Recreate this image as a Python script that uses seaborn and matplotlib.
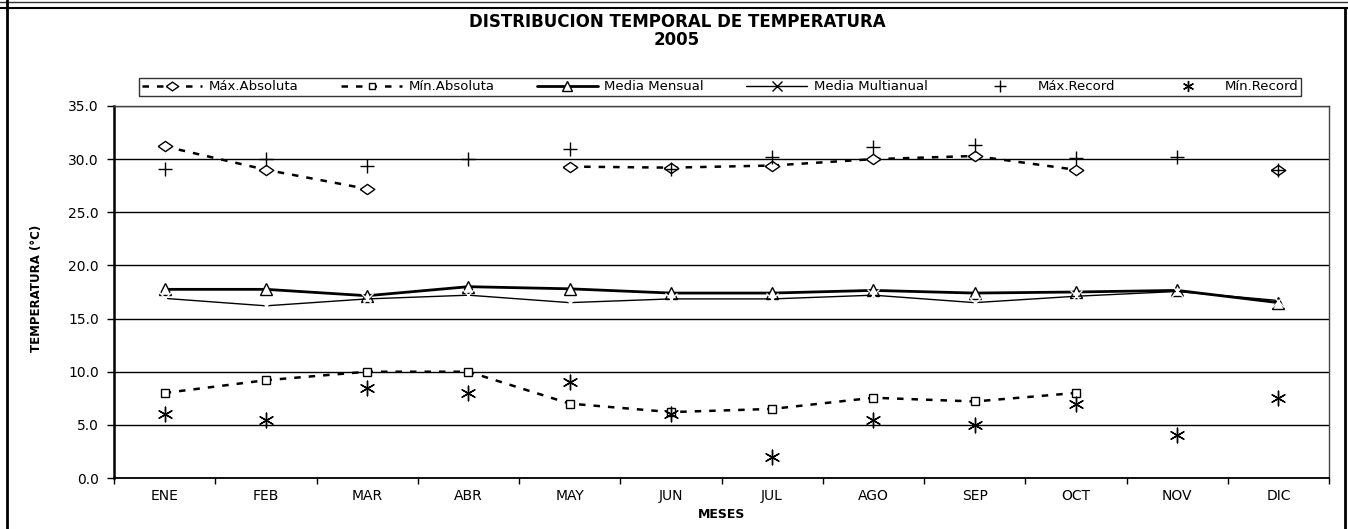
import numpy as np
import pandas as pd
import seaborn as sns
import matplotlib
matplotlib.use("Agg")
import matplotlib.pyplot as plt
from matplotlib.lines import Line2D

# data
meses = ["ENE", "FEB", "MAR", "ABR", "MAY", "JUN", "JUL", "AGO", "SEP", "OCT", "NOV", "DIC"]
max_absoluta = [31.2, 29.0, 27.2, np.nan, 29.3, 29.2, 29.4, 30.0, 30.3, 29.0, np.nan, 29.0]
min_absoluta = [8.0, 9.2, 10.0, 10.0, 7.0, 6.2, 6.5, 7.55, 7.2, 8.0, np.nan, np.nan]
media_mensual = [17.75, 17.75, 17.15, 18.0, 17.8, 17.4, 17.4, 17.65, 17.4, 17.5, 17.65, 16.5]
media_multianual = [16.9, 16.2, 16.85, 17.2, 16.5, 16.85, 16.85, 17.2, 16.5, 17.1, 17.55, 16.7]
max_record = [29.1, 30.0, 29.35, 30.0, 31.0, 29.1, 30.2, 31.1, 31.3, 30.1, 30.2, 29.0]
min_record = [6.0, 5.5, 8.5, 8.0, 9.0, 6.0, 2.0, 5.5, 5.0, 7.0, 4.0, 7.5]

sns.set_style("white")
plt.rcParams["font.family"] = ["DejaVu Sans"]
plt.rcParams["text.color"] = "black"
plt.rcParams["axes.labelcolor"] = "black"
plt.rcParams["xtick.color"] = "black"
plt.rcParams["ytick.color"] = "black"

W, H = 1348, 529
fig = plt.figure(figsize=(W / 100, H / 100), dpi=100)
ax = fig.add_axes([114 / W, 1 - 478 / H, (1329 - 114) / W, (478 - 106) / H])

pos = np.arange(len(meses))
df = pd.DataFrame({"pos": pos, "maxabs": max_absoluta, "minabs": min_absoluta,
                   "media": media_mensual, "multi": media_multianual,
                   "maxrec": max_record, "minrec": min_record})

# break dashed lines where a month is missing
def segments(col):
    s = df[col]
    seg = s.isna().cumsum()
    d = df.loc[s.notna(), ["pos", col]].copy()
    d["seg"] = seg[s.notna()]
    return d

dash = (0, (2.6, 3.2))
mk_face = "white"
# squashed diamond like the original
diamond = [(-1, 0), (0, 0.7), (1, 0), (0, -0.7), (-1, 0)]

d = segments("maxabs")
sns.lineplot(data=d, x="pos", y="maxabs", units="seg", estimator=None, ax=ax,
             color="black", lw=1.8, marker=diamond, ms=10.5,
             mfc=mk_face, mec="black", mew=1, zorder=4)
for ln in ax.lines:
    ln.set_linestyle(dash)

d = segments("minabs")
sns.lineplot(data=d, x="pos", y="minabs", units="seg", estimator=None, ax=ax,
             color="black", lw=1.8, marker="s", ms=5.5,
             mfc=mk_face, mec="black", mew=1, zorder=4)
ax.lines[-1].set_linestyle(dash)

sns.lineplot(data=df, x="pos", y="media", ax=ax, color="black", lw=2,
             marker="^", ms=9, mfc=mk_face, mec="black", mew=1, zorder=3)
sns.lineplot(data=df, x="pos", y="multi", ax=ax, color="black", lw=1,
             marker="x", ms=8, mew=1, zorder=3)
sns.scatterplot(data=df, x="pos", y="maxrec", ax=ax, color="black",
                marker="+", s=110, linewidth=1, zorder=5)
sns.scatterplot(data=df, x="pos", y="minrec", ax=ax, color="black",
                marker=(6, 2, 0), s=110, linewidth=1, zorder=5)

# axes styling
ax.set_xlim(-0.5, len(meses) - 0.5)
ax.set_ylim(0, 35)
ax.set_yticks(np.arange(0, 36, 5))
ax.set_yticklabels([f"{v:.1f}" for v in np.arange(0, 36, 5)], fontsize=10)
ax.yaxis.grid(True, color="black", lw=1)
ax.set_axisbelow(True)
ax.tick_params(axis="y", direction="out", length=5, width=1, color="black", pad=6, left=True)

ax.set_xticks(np.arange(-0.5, len(meses), 1))
ax.set_xticklabels([])
ax.set_xticks(pos, minor=True)
ax.set_xticklabels(meses, minor=True, fontsize=10)
ax.tick_params(axis="x", which="major", direction="out", length=4, width=1, color="black", bottom=True)
ax.tick_params(axis="x", which="minor", length=0, pad=8)

for side in ["top", "right"]:
    ax.spines[side].set_color("#444444")
    ax.spines[side].set_linewidth(1)
ax.spines["left"].set_color("black")
ax.spines["left"].set_linewidth(1.8)
ax.spines["bottom"].set_color("black")
ax.spines["bottom"].set_linewidth(1.3)

ax.set_xlabel("MESES", fontsize=9, fontweight="bold")
ax.xaxis.set_label_coords(0.5, (478 - 508) / 372)
ax.set_ylabel("TEMPERATURA (°C)", fontsize=8.5, fontweight="bold")
ax.yaxis.set_label_coords((43 - 114) / 1215, (478 - 288) / 372)

# titles
fig.text(677 / W, 1 - 22 / H, "DISTRIBUCION TEMPORAL DE TEMPERATURA",
         ha="center", va="center", fontsize=12, fontweight="bold")
fig.text(677 / W, 1 - 40 / H, "2005", ha="center", va="center",
         fontsize=12, fontweight="bold")

# legend
handles = [
    Line2D([], [], color="black", lw=1.8, ls=dash, marker=diamond, ms=9, mfc=mk_face, mec="black"),
    Line2D([], [], color="black", lw=1.8, ls=dash, marker="s", ms=5, mfc=mk_face, mec="black"),
    Line2D([], [], color="black", lw=2, marker="^", ms=7, mfc=mk_face, mec="black"),
    Line2D([], [], color="black", lw=1, marker="x", ms=7),
    Line2D([], [], color="black", ls="none", marker="+", ms=9),
    Line2D([], [], color="black", ls="none", marker=(6, 2, 0), ms=8),
]
labels = ["Máx.Absoluta", "Mín.Absoluta", "Media Mensual", "Media Multianual",
          "Máx.Record", "Mín.Record"]
leg = fig.legend(handles, labels, ncol=6, loc="center", mode="expand",
                 bbox_to_anchor=(139 / W, 1 - 95 / H, (1301 - 139) / W, 16 / H),
                 bbox_transform=fig.transFigure, fontsize=9.5, frameon=True,
                 fancybox=False, shadow=False, handlelength=4.6, handletextpad=0.5,
                 borderpad=0.2, borderaxespad=0)
leg.get_frame().set_edgecolor("black")
leg.get_frame().set_linewidth(1)

# outer frame of the picture
fig.add_artist(Line2D([0, 1], [1 - 2 / H, 1 - 2 / H], transform=fig.transFigure, color="#333333", lw=1))
fig.add_artist(Line2D([0, 1], [1 - 7.5 / H, 1 - 7.5 / H], transform=fig.transFigure, color="black", lw=1.5))
fig.add_artist(Line2D([6.5 / W, 6.5 / W], [0, 1], transform=fig.transFigure, color="black", lw=2))
fig.add_artist(Line2D([1345 / W, 1345 / W], [0, 1 - 7.5 / H], transform=fig.transFigure, color="black", lw=2))

fig.savefig("out.png", dpi=100)
